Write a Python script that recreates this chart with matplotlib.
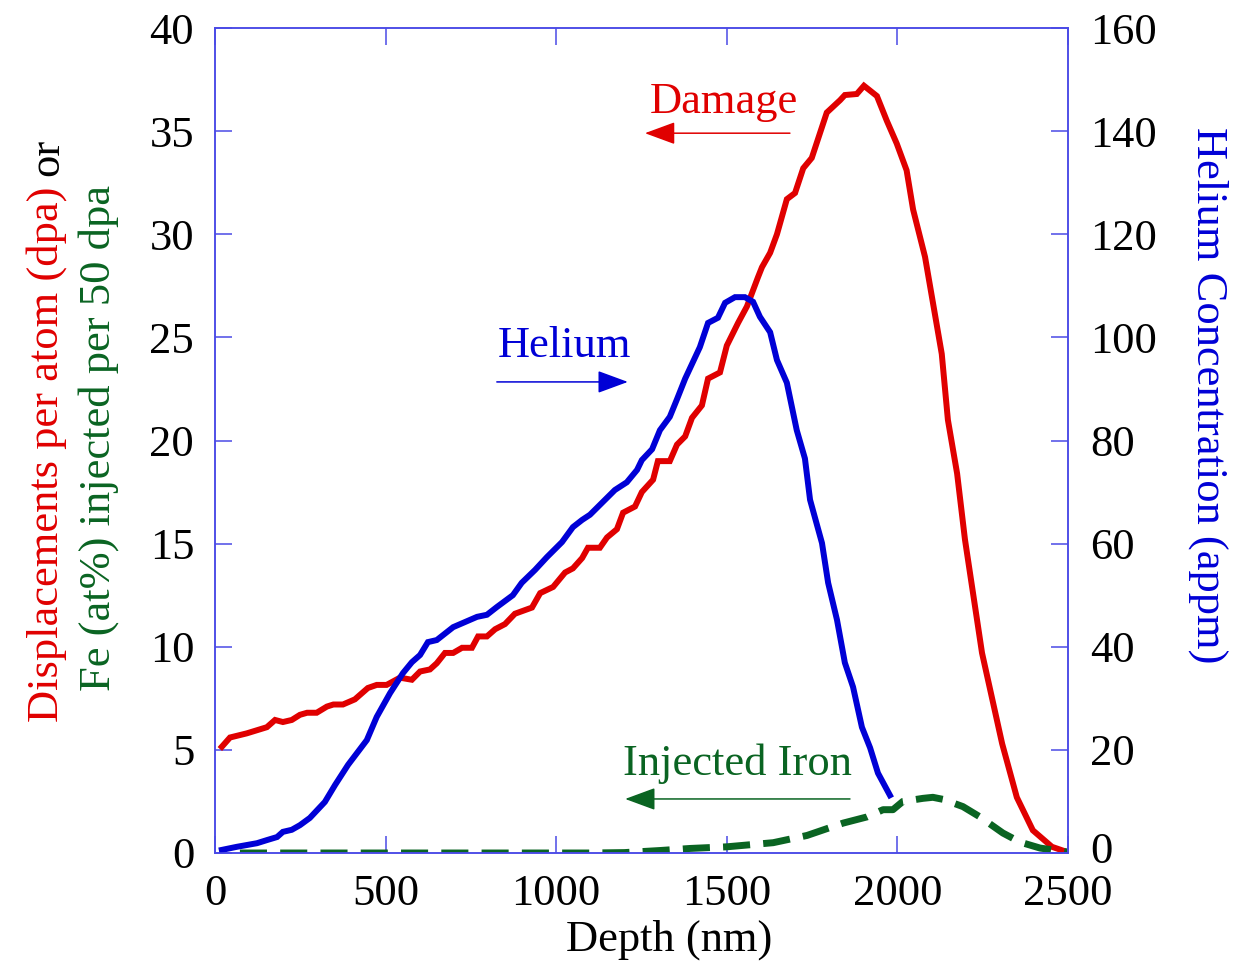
import numpy as np
import matplotlib.pyplot as plt
from matplotlib.transforms import ScaledTranslation

plt.rcParams['font.family'] = ['Liberation Serif', 'DejaVu Serif']
plt.rcParams['font.size'] = 32

# damage profile (dpa) vs depth (nm)
dmg_depth = [20, 44, 93, 152, 176, 199, 225, 249, 270, 298, 328, 347, 375, 410, 448, 474,
             503, 542, 577, 601, 630, 650, 674, 698, 724, 753, 771, 797, 821, 850, 879, 929,
             953, 991, 1026, 1049, 1076, 1093, 1128, 1149, 1178, 1196, 1231, 1251, 1284, 1298,
             1333, 1354, 1378, 1398, 1427, 1445, 1480, 1500, 1533, 1559, 1591, 1603, 1627, 1647,
             1676, 1700, 1724, 1749, 1793, 1832, 1846, 1881, 1902, 1940, 1969, 1998, 2027, 2046,
             2081, 2130, 2148, 2175, 2198, 2248, 2307, 2350, 2397, 2453, 2497]
dmg_dpa = [5.15, 5.6, 5.8, 6.1, 6.45, 6.35, 6.45, 6.7, 6.8, 6.8, 7.1, 7.2, 7.2, 7.45, 8.0, 8.15,
           8.15, 8.5, 8.4, 8.8, 8.9, 9.2, 9.7, 9.7, 9.95, 9.95, 10.5, 10.5, 10.85, 11.1, 11.6, 11.9,
           12.6, 12.9, 13.6, 13.8, 14.3, 14.8, 14.8, 15.3, 15.7, 16.5, 16.8, 17.5, 18.1, 19.0,
           19.0, 19.8, 20.2, 21.1, 21.7, 23.0, 23.3, 24.6, 25.7, 26.5, 27.9, 28.4, 29.1, 30.0,
           31.7, 32.0, 33.2, 33.7, 35.9, 36.5, 36.75, 36.8, 37.2, 36.7, 35.5, 34.4, 33.1, 31.2,
           28.9, 24.2, 21.0, 18.4, 15.2, 9.7, 5.3, 2.7, 1.1, 0.3, 0.05]

# helium concentration (appm)
he_depth = [20, 64, 123, 152, 182, 199, 225, 249, 278, 322, 352, 390, 445, 474, 513, 551, 577,
            601, 624, 650, 698, 768, 797, 826, 873, 899, 938, 973, 1017, 1049, 1076, 1099, 1137,
            1172, 1207, 1237, 1251, 1281, 1304, 1333, 1354, 1378, 1421, 1445, 1474, 1495, 1524,
            1553, 1577, 1597, 1627, 1647, 1676, 1705, 1729, 1744, 1779, 1797, 1823, 1846, 1870,
            1896, 1920, 1943, 1978]
he_appm = [0.6, 1.2, 1.9, 2.5, 3.1, 4.1, 4.5, 5.4, 6.8, 9.9, 13.2, 17.1, 21.9, 26.4, 31.0, 34.9, 37.0,
           38.4, 40.9, 41.3, 43.8, 45.8, 46.2, 47.7, 50.0, 52.4, 54.9, 57.4, 60.3, 63.2, 64.6, 65.6, 68.1,
           70.4, 71.9, 74.3, 76.2, 78.3, 82.0, 84.6, 88.0, 92.0, 98.1, 102.8, 103.8, 106.7, 107.8,
           107.8, 106.9, 104.0, 101.0, 95.6, 91.2, 82.0, 76.5, 68.5, 60.1, 52.4, 45.2, 36.9, 32.2,
           24.4, 20.4, 15.5, 11.2]

# injected iron (at% per 50 dpa)
fe_depth = [73, 300, 600, 900, 1100, 1200, 1304, 1392, 1500, 1636, 1735, 1841, 1911, 1958, 1987,
            2016, 2075, 2104, 2134, 2192, 2242, 2309, 2359, 2418, 2497]
fe_val = [0.0, 0.0, 0.0, 0.0, 0.0, 0.02, 0.12, 0.22, 0.3, 0.5, 0.85, 1.45, 1.75, 2.1, 2.1,
          2.5, 2.65, 2.7, 2.6, 2.25, 1.75, 0.97, 0.53, 0.24, 0.05]

RED = '#e00000'
BLUE = '#0000d6'
GREEN = '#0a6422'
FRAME = '#4a4ae6'

W, H = 1248, 965
fig = plt.figure(figsize=(W / 100, H / 100), dpi=100)
ax = fig.add_axes([215 / W, 1 - 853 / H, (1068 - 215) / W, (853 - 28) / H])
ax2 = ax.twinx()

ax.plot(dmg_depth, dmg_dpa, color=RED, lw=4.3, solid_joinstyle='miter')
ax.plot(fe_depth, fe_val, color=GREEN, lw=5, dashes=(3.9, 1.9))
ax2.plot(he_depth, he_appm, color=BLUE, lw=4.3, solid_joinstyle='miter')

ax.set_xlim(0, 2500)
ax.set_ylim(0, 40)
ax2.set_ylim(0, 160)
ax.set_xticks(np.arange(0, 2501, 500))
ax.set_yticks(np.arange(0, 41, 5))
ax2.set_yticks(np.arange(0, 161, 20))

ax.tick_params(axis='x', direction='in', length=12, width=1.1, color=FRAME, pad=15, top=True)
ax.tick_params(axis='y', direction='in', length=12, width=1.1, color=FRAME, pad=15)
ax2.tick_params(axis='y', direction='in', length=12, width=1.1, color=FRAME, pad=16)
for a in (ax, ax2):
    for s in a.spines.values():
        s.set_color(FRAME)
        s.set_linewidth(1.1)

# nudge the right-hand "0" up a few points so it clears the "2500" below it
lab0 = ax2.yaxis.get_major_ticks()[0].label2
lab0.set_transform(lab0.get_transform() + ScaledTranslation(0, 4 / 72, fig.dpi_scale_trans))

# annotations with arrows
def arrow(x0, x1, y, col):
    ax.annotate('', xy=(x1, y), xytext=(x0, y),
                arrowprops=dict(arrowstyle='-|>,head_length=19,head_width=7', mutation_scale=1,
                                color=col, lw=1.1, shrinkA=0, shrinkB=0))

ax.text(1490, 35.9, 'Damage', color=RED, ha='center', va='baseline')
arrow(1685, 1260, 34.9, RED)
ax.text(1024, 24.05, 'Helium', color=BLUE, ha='center', va='baseline')
arrow(826, 1210, 22.84, BLUE)
ax.text(1531, 3.78, 'Injected Iron', color=GREEN, ha='center', va='baseline')
arrow(1861, 1202, 2.62, GREEN)

# axis labels
fig.text(669 / W, 1 - 951 / H, 'Depth (nm)', ha='center', va='baseline')
t1 = fig.text(58 / W, 1 - 722 / H, 'Displacements per atom (dpa)', rotation=90,
              rotation_mode='anchor', ha='left', va='baseline', color=RED)
fig.canvas.draw()
bb = t1.get_window_extent()
fig.text(58 / W, (bb.y1 + 11) / H, 'or', rotation=90, rotation_mode='anchor',
         ha='left', va='baseline', color='black')
fig.text(110 / W, 1 - 438 / H, 'Fe (at%) injected per 50 dpa', rotation=90,
         rotation_mode='anchor', ha='center', va='baseline', color=GREEN)
fig.text(1197 / W, 1 - 395 / H, 'Helium Concentration (appm)', rotation=-90,
         rotation_mode='anchor', ha='center', va='baseline', color=BLUE)

fig.savefig('out.png', dpi=100)
